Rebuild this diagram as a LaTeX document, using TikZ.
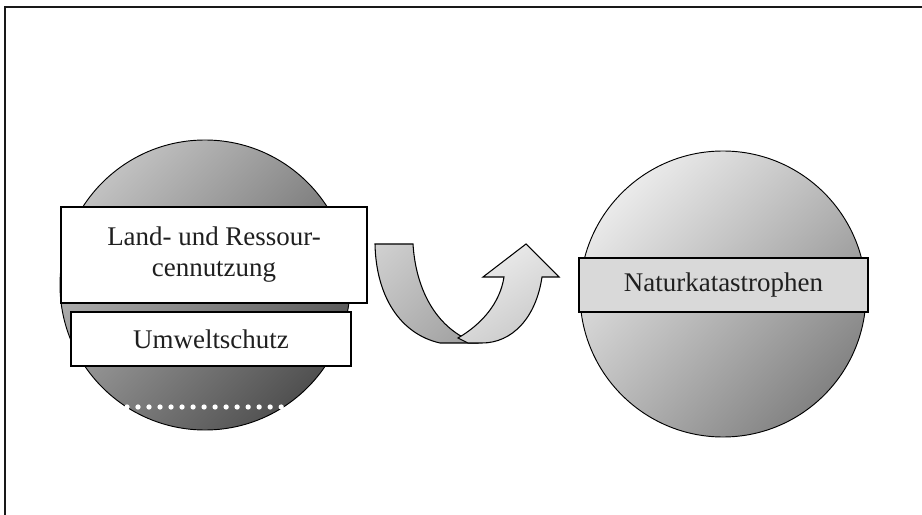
\documentclass[tikz,border=0pt]{standalone}
\usepackage{fontspec}
\usetikzlibrary{shadings}
\setmainfont{Liberation Serif}
\begin{document}
\begin{tikzpicture}[x=0.03cm,y=-0.03cm,
  ball/.style={draw=black,line width=0.8pt},
  label box/.style={draw=black,line width=1pt,inner sep=0pt,align=center,
    text=black!88,font=\fontsize{23}{26.5}\selectfont},
  frameline/.style={line width=1.8pt,draw=black!90}]
\useasboundingbox (0,0) rectangle (922,515);
% frame (top and left edges)
\draw[frameline] (5,515) -- (5,7) -- (922,7);
% circles
\shade[ball,upper left=black!15,lower right=black!78,upper right=black!46,lower left=black!46]
  (205,285) circle[radius=145];
\shade[ball,upper left=white,lower right=black!58,upper right=black!27,lower left=black!27]
  (723,294) circle[radius=143];
% boxes
\node[label box,fill=white,minimum width=9.18cm,minimum height=2.88cm] (land) at (214,255)
  {Land- und Ressour-\\cennutzung};
\node[label box,fill=white,minimum width=8.4cm,minimum height=1.62cm] (umwelt) at (211,339)
  {Umweltschutz};
\node[label box,fill=black!15,minimum width=8.67cm,minimum height=1.62cm] (natur) at (723.5,285)
  {Naturkatastrophen};
% dotted line
\coordinate (d1) at (127,407);
\coordinate (d2) at (282,407);
\draw[white,line width=4.5pt,line cap=round,dash pattern=on 0pt off 9.4pt] (d1) -- (d2);
% U-turn arrow
\shade[draw=black,line width=0.9pt,upper left=black!18,lower right=black!38,upper right=black!28,lower left=black!28]
  (375,244) -- (413,244) .. controls (416,292) and (438,330) .. (476,343)
  -- (440,343) .. controls (400,334) and (376,296) .. (375,244) -- cycle;
\shade[draw=black,line width=0.9pt,upper left=black!4,lower right=black!24,upper right=black!12,lower left=black!16]
  (458,338) .. controls (482,324) and (500,303) .. (504,277) -- (483,277) -- (526,244)
  -- (559,277) -- (542,277) .. controls (536,318) and (512,343) .. (482,343)
  -- (468,343) -- cycle;
\end{tikzpicture}
\end{document}
